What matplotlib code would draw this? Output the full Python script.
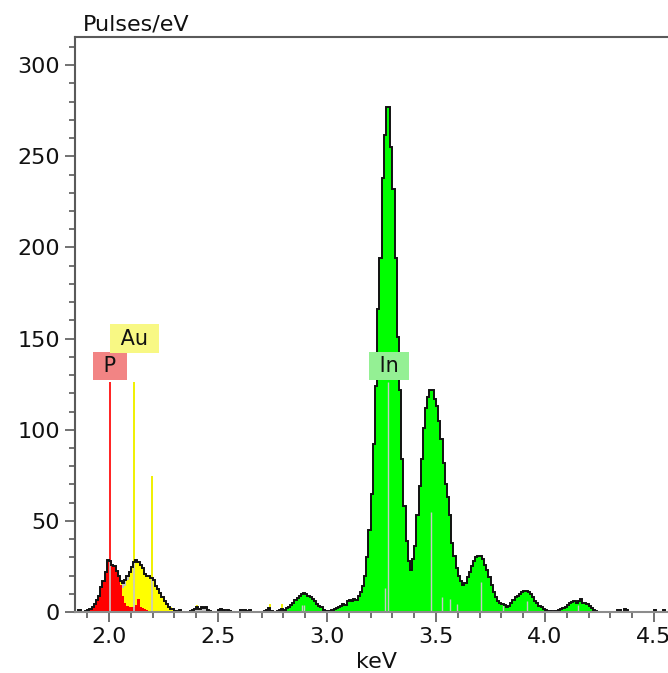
import numpy as np
import matplotlib
matplotlib.use("Agg")
import matplotlib.pyplot as plt
from matplotlib.ticker import MultipleLocator, FixedLocator

# ---------------- data ----------------
E_START = 1.84          # keV, left edge of first channel
E_STEP = 0.01           # keV per channel

counts = [
    # 1.84 - 1.99
    0, 0, 1, 0, 0, 0.5, 1, 1.5, 3, 4.5, 6.5, 9, 13.5, 17, 22, 28.5,
    # 2.00 - 2.19
    28, 26, 25, 22.5, 20, 17, 16, 17.5, 19.5, 22, 24.5, 27.5, 28.3, 27.5, 26, 24, 21, 20, 19.5, 18.5,
    # 2.20 - 2.39
    17.5, 14.5, 12.5, 10.5, 8, 6, 4.5, 3, 1.5, 1.5, 0.5, 0, 1, 0, 0, 0, 0, 0.5, 1, 1.5,
    # 2.40 - 2.59
    2.5, 1.5, 2.5, 2, 2.5, 1, 0.5, 0, 0, 0, 1, 1.5, 1, 0, 1, 0.5, 0, 0, 0, 0,
    # 2.60 - 2.79
    1, 1, 1, 0.5, 1, 0, 0, 0, 0, 0, 0, 0.5, 1, 2, 0.5, 0, 0, 0.5, 1, 1.5,
    # 2.80 - 2.99
    1, 2, 3, 4, 5, 6.5, 7.5, 9, 10, 10.5, 10, 9, 8, 7, 6, 4.5, 3.5, 3, 1, 0.5,
    # 3.00 - 3.19
    0.5, 0.5, 1, 1.5, 2, 2.5, 3.5, 4.5, 4, 6, 6.5, 6, 7, 6.5, 9, 11, 14, 20, 30, 45,
    # 3.20 - 3.39
    65, 92, 124, 166, 194, 238, 262, 277, 277, 255, 232, 194, 151, 122, 84, 58, 39, 28, 23, 29,
    # 3.40 - 3.59
    36, 53, 69, 84, 101, 112, 118, 122, 122, 117, 113, 105, 95, 82, 70, 63, 53, 38, 31, 24,
    # 3.60 - 3.79
    20, 17, 15, 16, 19, 22, 25, 28, 30, 30.5, 30.5, 29, 26, 23, 19, 15, 11, 8, 6, 5,
    # 3.80 - 3.99
    4.5, 4, 3, 3.5, 5, 6.5, 8, 9, 10, 11, 11.5, 11.5, 11, 10, 8, 6, 5, 3.5, 2.5, 1.5,
    # 4.00 - 4.19
    1, 0.5, 0.5, 0, 0.5, 0.5, 1, 1.5, 2, 3, 4, 5, 5.5, 6, 5, 6, 7, 5, 5, 4.5,
    # 4.20 - 4.39
    3.5, 2, 1, 0.5, 0, 0, 0, 0, 0, 0, 0, 0, 0, 1, 1, 0, 1.5, 1, 0, 0,
    # 4.40 - 4.56
    0, 0, 0, 0, 0, 0, 0, 0, 0, 0, 1, 0, 0, 0, 1, 0, 0,
]

# fitted element contributions (P and Au), channels starting at 1.90 keV
FIT_START = 1.90
p_fit = [0.5, 1.5, 3, 4.5, 6.5, 9, 13, 17, 22, 27.5,
         27.5, 26, 24.5, 22, 19, 15, 9, 5, 3.5, 3,
         3, 3, 4, 7, 3, 2, 1.5, 1, 0.5, 0,
         0, 0]
au_fit = [0, 0, 0, 0, 0, 0, 0, 0, 0, 0,
          0, 0, 0, 0, 1, 2, 4, 9, 14, 18.5,
          21, 23.5, 24, 20.5, 23, 22, 20, 19, 19, 18.5,
          17.5, 15, 13, 11, 8.5, 6.5, 5, 3.5, 2.5, 1.5,
          1, 0.5]
IN_RANGE = (2.80, 4.26)

# element marker lines: (energy, height)
p_lines = [(2.005, 126)]
au_lines = [(2.115, 126), (2.197, 74.6), (2.405, 3.8), (2.739, 4.2), (2.792, 4.4)]
in_lines = [(2.885, 4), (2.893, 4), (3.268, 13), (3.281, 126), (3.475, 55),
            (3.526, 8), (3.564, 7), (3.595, 4.4), (3.705, 16.5), (3.807, 3.7),
            (3.916, 6), (4.15, 4)]

labels = [("P", 2.005, 135, "#f28484"), ("Au", 2.117, 150, "#f8f884"), ("In", 3.284, 135, "#94f094")]

x_ticks = [2.0, 2.5, 3.0, 3.5, 4.0, 4.5]
y_ticks = [0, 50, 100, 150, 200, 250, 300]

# ---------------- figure ----------------
W, H = 668, 673
fig = plt.figure(figsize=(W / 100, H / 100), dpi=100)
ax = fig.add_axes([75 / W, 61 / H, 1 - 75 / W, (612 - 37) / H])
ax.set_xlim(1.844, 4.564)
ax.set_ylim(0, 315.5)

counts = np.array(counts, dtype=float)
edges = E_START + E_STEP * np.arange(len(counts) + 1)
centers = edges[:-1] + E_STEP / 2

# gray measured spectrum
ax.stairs(counts, edges, fill=True, color="#c4c4c4", zorder=2)

# In contribution
in_mask = (centers >= IN_RANGE[0]) & (centers <= IN_RANGE[1])
ax.stairs(np.where(in_mask, counts, 0), edges, fill=True, color="#00ff00", zorder=2.1, lw=0)

# P / Au contributions
p_fit = np.array(p_fit, dtype=float)
au_fit = np.array(au_fit, dtype=float)
n = len(au_fit)
p_full = np.zeros(n)
p_full[:len(p_fit)] = p_fit[:n]
fit_edges = FIT_START + E_STEP * np.arange(n + 1)
ax.stairs(p_full, fit_edges, fill=True, color="#ff0000", zorder=2.2, lw=0)
ax.stairs(p_full + au_fit, fit_edges, baseline=p_full, fill=True, color="#ffff00", zorder=2.2, lw=0)


def fill_top(e):
    idx = int((e - E_START) / E_STEP)
    return counts[idx]


# marker lines: coloured above the fill, light gray inside it
for (e, h) in p_lines:
    ax.vlines(e, 0, h, color="#ff2020", lw=1.4, zorder=1.5)
    ax.vlines(e, 0, min(h, fill_top(e)), color="#c8c8c8", lw=1.2, zorder=2.5)
for (e, h) in au_lines:
    ax.vlines(e, 0, h, color="#f0f000", lw=1.4, zorder=1.5)
    ax.vlines(e, 0, min(h, fill_top(e)), color="#c8c8c8", lw=1.2, zorder=2.5)
for (e, h) in in_lines:
    ax.vlines(e, 0, min(h, fill_top(e)), color="#c8c8c8", lw=1.0, zorder=2.5)

# measured outline
ax.stairs(counts, edges, color="#111111", lw=1.4, zorder=3)

# element labels
for (t, e, v, c) in labels:
    ax.text(e, v, " " + t + " ", ha="center", va="center", fontsize=15, color="#111111", zorder=6,
            bbox=dict(boxstyle="square,pad=0.2", fc=c, ec="none"))

# axes styling
ax.spines["right"].set_visible(False)
ax.spines["left"].set_color("#5a5a5a")
ax.spines["top"].set_color("#5a5a5a")
ax.spines["bottom"].set_color("#8c8c8c")
for s in ["left", "top", "bottom"]:
    ax.spines[s].set_linewidth(1.5)
ax.spines["bottom"].set_zorder(5)

ax.xaxis.set_major_locator(FixedLocator(x_ticks))
ax.xaxis.set_minor_locator(MultipleLocator(0.1))
ax.yaxis.set_major_locator(FixedLocator(y_ticks))
ax.yaxis.set_minor_locator(MultipleLocator(10))
ax.set_xticklabels([f"{v:.1f}" for v in x_ticks])
ax.set_yticklabels([str(v) for v in y_ticks])
ax.tick_params(axis="both", which="major", length=7, width=1.2, color="#5a5a5a",
               labelsize=16, labelcolor="#111111", pad=4)
ax.tick_params(axis="both", which="minor", length=4, width=1.2, color="#5a5a5a")

fig.text(83 / W, 1 - 31 / H, "Pulses/eV", fontsize=16, ha="left", va="baseline", color="#111111")
fig.text(377 / W, 1 - 668 / H, "keV", fontsize=16, ha="center", va="baseline", color="#111111")

fig.savefig("out.png", dpi=100)
